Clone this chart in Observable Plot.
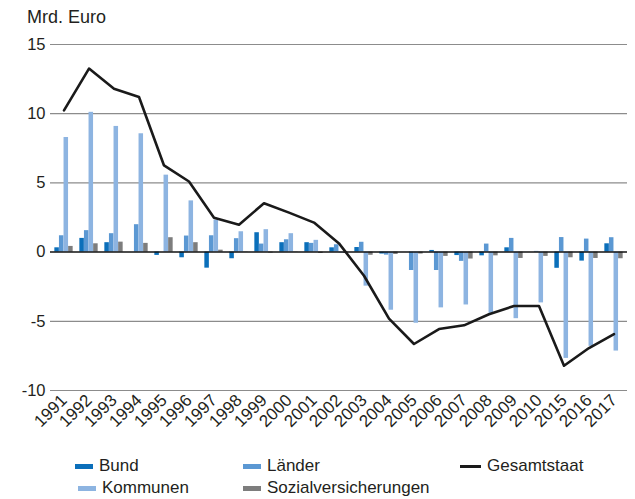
<!DOCTYPE html>
<html>
<head>
<meta charset="utf-8">
<script src="https://cdn.jsdelivr.net/npm/d3@7"></script>
<script src="https://cdn.jsdelivr.net/npm/@observablehq/plot@0.6"></script>
<style>
  body { margin: 0; background: #fff; font-family: "Liberation Sans", Arial, sans-serif; color: #231f20; }
  #wrap { width: 635px; height: 499px; position: relative; overflow: hidden; }
  #title { height: 30px; box-sizing: border-box; padding-left: 27px; padding-top: 7px; font-size: 18px; line-height: 20px; }
  #legend { position: relative; height: 49px; font-size: 17px; }
  .item { position: absolute; display: flex; align-items: center; white-space: nowrap; line-height: 20px; }
  .sw { display: inline-block; width: 18px; height: 5px; margin-right: 6px; }
</style>
</head>
<body>
<div id="wrap">
  <div id="title">Mrd. Euro</div>
  <div id="chart"></div>
  <div id="legend"></div>
</div>
<script>
const years = ["1991","1992","1993","1994","1995","1996","1997","1998","1999","2000","2001","2002","2003","2004","2005","2006","2007","2008","2009","2010","2015","2016","2017"];
const bund     = [0.31,0.99,0.68,0,-0.24,-0.41,-1.16,-0.48,1.40,0.68,0.68,0.31,0.33,-0.14,0,0.12,-0.25,-0.27,0.31,0,-1.17,-0.65,0.60];
const laender  = [1.18,1.55,1.33,1.98,0,1.16,1.18,0.97,0.58,0.89,0.63,0.53,0.71,-0.22,-1.33,-1.33,-0.67,0.58,0.99,0.05,1.05,0.94,1.04];
const kommunen = [8.28,10.1,9.08,8.55,5.56,3.70,2.32,1.47,1.62,1.33,0.85,-0.07,-2.46,-4.2,-5.14,-4.03,-3.82,-4.42,-4.81,-3.67,-7.68,-6.81,-7.15];
const sozial   = [0.41,0.60,0.72,0.63,1.04,0.68,0.14,-0.02,-0.07,-0.02,-0.1,-0.1,-0.23,-0.17,-0.14,-0.31,-0.5,-0.27,-0.46,-0.31,-0.41,-0.46,-0.48];
const gesamt   = [10.24,13.26,11.81,11.21,6.26,5.10,2.49,1.98,3.53,2.85,2.13,0.63,-1.71,-4.81,-6.64,-5.56,-5.29,-4.49,-3.89,-3.89,-8.21,-6.93,-5.92];
const yTicks = [-10,-5,0,5,10,15];
const gridTicks = [-10,-5,5,10,15];

const series = [
  {key: "bund", name: "Bund", color: "#0b6fba", values: bund},
  {key: "laender", name: "Länder", color: "#5b98d3", values: laender},
  {key: "kommunen", name: "Kommunen", color: "#8db4e1", values: kommunen},
  {key: "sozial", name: "Sozialversicherungen", color: "#7d7d7d", values: sozial}
];
const data = years.map((y, i) => ({year: y, bund: bund[i], laender: laender[i], kommunen: kommunen[i], sozial: sozial[i], gesamt: gesamt[i]}));

const W = 635, ml = 50, mr = 8;
const step = (W - ml - mr) / years.length;
const bw = 4.6, gw = 4 * bw, pad = (step - gw) / 2;

const barMarks = series.map((s, i) => Plot.barY(data, {
  x: "year", y: s.key, fill: s.color,
  insetLeft: pad + i * bw, insetRight: step - pad - (i + 1) * bw
}));

const chart = Plot.plot({
  width: W, height: 420,
  marginLeft: ml, marginRight: mr, marginTop: 14, marginBottom: 60,
  style: {fontFamily: "'Liberation Sans', Arial, sans-serif", fontSize: "16px", color: "#231f20", background: "#fff"},
  x: {type: "band", domain: years, padding: 0},
  y: {domain: [-10, 15]},
  marks: [
    Plot.ruleY(gridTicks, {stroke: "#8c8c8c", strokeWidth: 1.2}),
    ...barMarks,
    Plot.ruleY([0], {stroke: "#111", strokeWidth: 1.5}),
    Plot.line(data, {x: "year", y: "gesamt", stroke: "#1a1a1a", strokeWidth: 2.6}),
    Plot.axisY({ticks: yTicks, tickSize: 0, tickPadding: 5, tickFormat: d => String(d), label: null, fontSize: 16.5}),
    Plot.axisX({tickRotate: -45, tickSize: 0, tickPadding: 7, label: null, fontSize: 17})
  ]
});
document.getElementById("chart").appendChild(chart);

const legendItems = [
  {name: "Bund", color: series[0].color, left: 75, top: 6},
  {name: "Länder", color: series[1].color, left: 243, top: 6},
  {name: "Gesamtstaat", color: "#1a1a1a", left: 460, top: 6, wide: true},
  {name: "Kommunen", color: series[2].color, left: 78, top: 28},
  {name: "Sozialversicherungen", color: series[3].color, left: 243, top: 28}
];
const leg = document.getElementById("legend");
legendItems.forEach(it => {
  const d = document.createElement("div");
  d.className = "item";
  d.style.left = it.left + "px";
  d.style.top = it.top + "px";
  const sw = document.createElement("span");
  sw.className = "sw";
  sw.style.background = it.color;
  if (it.wide) { sw.style.width = "21px"; sw.style.height = "3px"; }
  d.appendChild(sw);
  d.appendChild(document.createTextNode(it.name));
  leg.appendChild(d);
});
</script>
</body>
</html>
